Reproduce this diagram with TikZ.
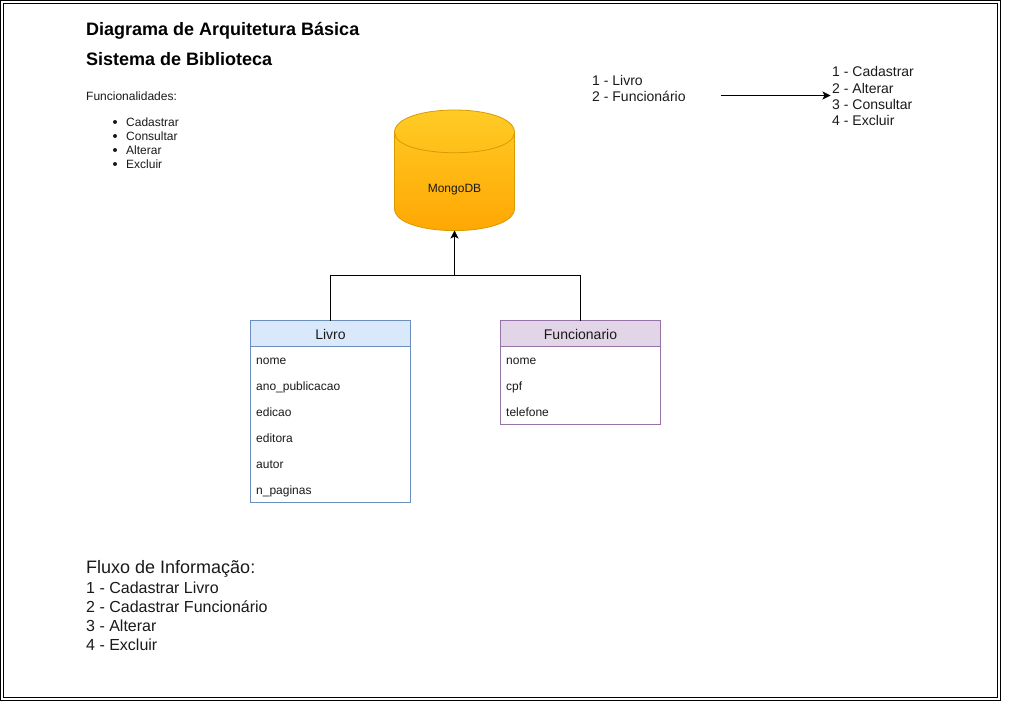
\documentclass[tikz,border=0pt]{standalone}
\usepackage{fontspec}
\setmainfont{Liberation Sans}
\usetikzlibrary{arrows.meta}
\definecolor{txt}{HTML}{1A1A1A}
\definecolor{cylA}{HTML}{FFCD28}
\definecolor{cylB}{HTML}{FFA500}
\definecolor{cylL}{HTML}{D79B00}
\definecolor{bluef}{HTML}{DAE8FC}
\definecolor{blued}{HTML}{6C8EBF}
\definecolor{purpf}{HTML}{E1D5E7}
\definecolor{purpd}{HTML}{9673A6}
\newcommand{\fs}[1]{\fontsize{#1}{#1}\selectfont}
\tikzset{
  lab/.style={anchor=base west,inner sep=0pt,text=txt},
  small/.style={lab,font=\fs{12}},
  med/.style={lab,font=\fs{14}},
  big/.style={lab,font=\fs{16}},
  ttl/.style={lab,text=black,font=\fs{18}\bfseries},
  hdr/.style={anchor=center,inner sep=0pt,text=txt,font=\fs{14}},
  blt/.style={circle,fill=txt,inner sep=0pt,minimum size=4pt},
  conn/.style={draw=black,line width=1pt,-{Stealth[length=8pt,width=8pt,inset=2pt]}},
  plain/.style={draw=black,line width=1pt},
}
\begin{document}
\begin{tikzpicture}[x=1pt,y=-1pt]
\useasboundingbox (0,0) rectangle (1025,701);
\fill[white] (0,0) rectangle (1025,701);
\draw[black,line width=1.2pt] (0.8,0.8) rectangle (1000.2,700.2);
\draw[black,line width=1.2pt] (3.2,3.2) rectangle (997.8,697.8);
% titles
\node[ttl] (t1) at (86,36) {Diagrama de Arquitetura Básica};
\node[ttl] (t2) at (86,66) {Sistema de Biblioteca};
\node[small] (func) at (86,100) {Funcionalidades:};
\foreach \n/\y/\s in {a/126/Cadastrar,b/140/Consultar,c/154/Alterar,d/168/Excluir}{
  \node[small] (f\n) at (126,\y) {\s};
  \node[blt] (bl\n) at (115,\y-4) {};
}
% cylinder
\shade[bottom color=cylB,top color=cylA,draw=cylL,line width=0.8pt]
  (394.5,132.5) .. controls (394.5,102.5) and (514.5,102.5) .. (514.5,132.5)
  -- (514.5,208.5) .. controls (514.5,238) and (394.5,238) .. (394.5,208.5) -- cycle;
\draw[cylL,line width=0.8pt] (394.5,132.5) .. controls (394.5,159.5) and (514.5,159.5) .. (514.5,132.5);
\node[anchor=center,inner sep=0pt,text=txt,font=\fs{12}] (db) at (454.5,190) {MongoDB};
\coordinate (dbb) at (454.5,230.5);
% tables
\draw[blued,fill=white,line width=0.8pt] (250.5,320.5) rectangle (410.5,502.5);
\draw[blued,fill=bluef,line width=0.8pt] (250.5,320.5) rectangle (410.5,346.5);
\node[hdr] (livro) at (330.5,334) {Livro};
\coordinate (livroT) at (330.5,320.5);
\foreach \y/\s in {364/nome,390/ano\_publicacao,416/edicao,442/editora,468/autor,494/n\_paginas}
  \node[small] at (256,\y) {\s};
\draw[purpd,fill=white,line width=0.8pt] (500.5,320.5) rectangle (660.5,424.5);
\draw[purpd,fill=purpf,line width=0.8pt] (500.5,320.5) rectangle (660.5,346.5);
\node[hdr] (func2) at (580.5,334) {Funcionario};
\coordinate (funcT) at (580.5,320.5);
\foreach \y/\s in {364/nome,390/cpf,416/telefone}
  \node[small] at (506,\y) {\s};
% connectors
\coordinate (j) at (454.5,275.5);
\draw[plain] (livroT) |- (j);
\draw[plain] (funcT) |- (j);
\draw[conn] (j) -- (dbb);
% top right
\node[med] (l1) at (592,85) {1 - Livro};
\node[med] (l2) at (592,101) {2 - Funcionário};
\coordinate (a1) at (720.5,95.5);
\coordinate (a2) at (830.5,95.5);
\draw[conn] (a1) -- (a2);
\node[med] (r1) at (832,77) {1 - Cadastrar};
\node[med] (r2) at (832,93) {2 - Alterar};
\node[med] (r3) at (832,109) {3 - Consultar};
\node[med] (r4) at (832,125) {4 - Excluir};
% bottom
\node[lab,font=\fs{18}] (b0) at (86,573) {Fluxo de Informação:};
\node[big] (b1) at (86,593) {1 - Cadastrar Livro};
\node[big] (b2) at (86,612) {2 - Cadastrar Funcionário};
\node[big] (b3) at (86,631) {3 - Alterar};
\node[big] (b4) at (86,650) {4 - Excluir};
\end{tikzpicture}
\end{document}
